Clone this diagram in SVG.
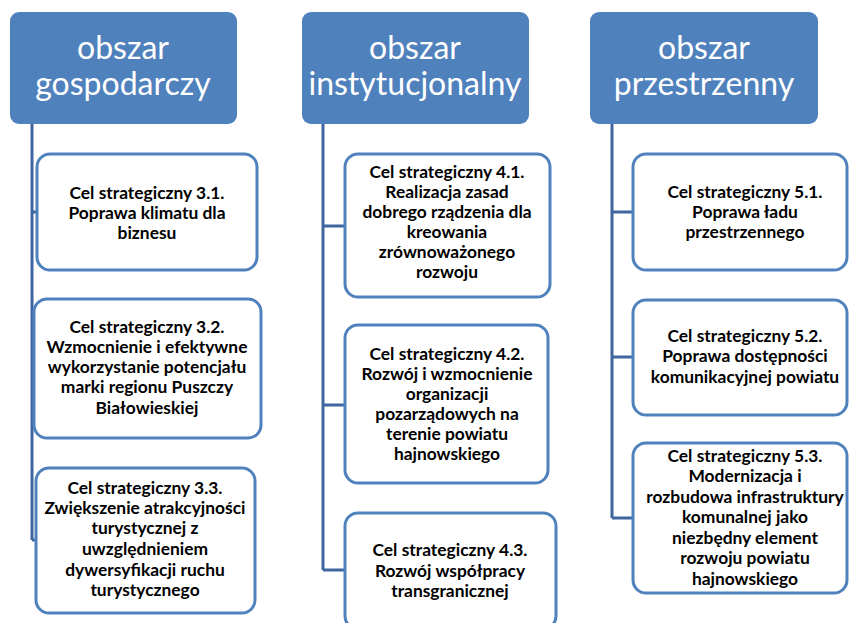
<svg xmlns="http://www.w3.org/2000/svg" width="849" height="623" viewBox="0 0 849 623">
<style>
.hdr{fill:#4F81BD;stroke:none}
.ht{font-family:Lato,"Open Sans","Liberation Sans",sans-serif;font-size:32px;fill:#FFFFFF;text-anchor:middle}
.box{fill:#FFFFFF;stroke:#4F81BD;stroke-width:3}
.bt{font-family:Lato,"Open Sans","Liberation Sans",sans-serif;font-size:17.4px;font-weight:bold;fill:#000000;text-anchor:middle}
.con{fill:none;stroke:#3F66A0;stroke-width:3}
</style>
<rect width="849" height="623" fill="#FFFFFF"/>
<g id="connectors">
<path class="con" d="M32 124 V540 M32 212 H37 M32 368 H34 M32 540 H36"/>
<path class="con" d="M323 124 V570 M323 226 H345 M323 405 H345 M323 570 H345"/>
<path class="con" d="M612 124 V518 M612 212 H633 M612 357 H633 M612 518 H633"/>
</g>
<g id="h1"><rect class="hdr" x="10" y="12" width="227" height="112" rx="9"/>
<text class="ht" x="123" y="59">obszar</text><text class="ht" x="123" y="95">gospodarczy</text></g>
<g id="h2"><rect class="hdr" x="302" y="12" width="227" height="112" rx="9"/>
<text class="ht" x="415" y="59">obszar</text><text class="ht" x="415" y="95">instytucjonalny</text></g>
<g id="h3"><rect class="hdr" x="590" y="12" width="228" height="112" rx="9"/>
<text class="ht" x="704" y="59">obszar</text><text class="ht" x="704" y="95">przestrzenny</text></g>

<g id="b31"><rect class="box" x="37" y="154" width="220" height="116" rx="13"/>
<text class="bt" x="147" y="199">Cel strategiczny 3.1.</text><text class="bt" x="147" y="219">Poprawa klimatu dla</text><text class="bt" x="147" y="239">biznesu</text></g>
<g id="b32"><rect class="box" x="34" y="299" width="227" height="139" rx="13"/>
<text class="bt" x="147" y="333">Cel strategiczny 3.2.</text><text class="bt" x="147" y="353">Wzmocnienie i efektywne</text><text class="bt" x="147" y="373">wykorzystanie potencjału</text><text class="bt" x="147" y="393">marki regionu Puszczy</text><text class="bt" x="147" y="414">Białowieskiej</text></g>
<g id="b33"><rect class="box" x="36" y="468" width="219" height="145" rx="13"/>
<text class="bt" x="145" y="494">Cel strategiczny 3.3.</text><text class="bt" x="145" y="514">Zwiększenie atrakcyjności</text><text class="bt" x="145" y="534">turystycznej z</text><text class="bt" x="145" y="555">uwzględnieniem</text><text class="bt" x="145" y="576">dywersyfikacji ruchu</text><text class="bt" x="145" y="596">turystycznego</text></g>

<g id="b41"><rect class="box" x="345" y="154" width="205" height="143" rx="13"/>
<text class="bt" x="447" y="178">Cel strategiczny 4.1.</text><text class="bt" x="447" y="198">Realizacja zasad</text><text class="bt" x="447" y="218">dobrego rządzenia dla</text><text class="bt" x="447" y="238">kreowania</text><text class="bt" x="447" y="258">zrównoważonego</text><text class="bt" x="447" y="278">rozwoju</text></g>
<g id="b42"><rect class="box" x="345" y="325" width="203" height="158" rx="13"/>
<text class="bt" x="447" y="360">Cel strategiczny 4.2.</text><text class="bt" x="447" y="380">Rozwój i wzmocnienie</text><text class="bt" x="447" y="400">organizacji</text><text class="bt" x="447" y="420">pozarządowych na</text><text class="bt" x="447" y="440">terenie powiatu</text><text class="bt" x="447" y="460">hajnowskiego</text></g>
<g id="b43"><rect class="box" x="345" y="513" width="211" height="116" rx="13"/>
<text class="bt" x="450" y="556">Cel strategiczny 4.3.</text><text class="bt" x="450" y="577">Rozwój współpracy</text><text class="bt" x="450" y="597">transgranicznej</text></g>

<g id="b51"><rect class="box" x="633" y="154" width="214" height="116" rx="13"/>
<text class="bt" x="745" y="198">Cel strategiczny 5.1.</text><text class="bt" x="745" y="218">Poprawa ładu</text><text class="bt" x="745" y="238">przestrzennego</text></g>
<g id="b52"><rect class="box" x="633" y="300" width="214" height="115" rx="13"/>
<text class="bt" x="745" y="342">Cel strategiczny 5.2.</text><text class="bt" x="745" y="362">Poprawa dostępności</text><text class="bt" x="745" y="383">komunikacyjnej powiatu</text></g>
<g id="b53"><rect class="box" x="633" y="443" width="214" height="150" rx="13"/>
<text class="bt" x="745" y="462">Cel strategiczny 5.3.</text><text class="bt" x="745" y="482">Modernizacja i</text><text class="bt" x="745" y="503">rozbudowa infrastruktury</text><text class="bt" x="745" y="523">komunalnej jako</text><text class="bt" x="745" y="544">niezbędny element</text><text class="bt" x="745" y="564">rozwoju powiatu</text><text class="bt" x="745" y="585">hajnowskiego</text></g>
</svg>
